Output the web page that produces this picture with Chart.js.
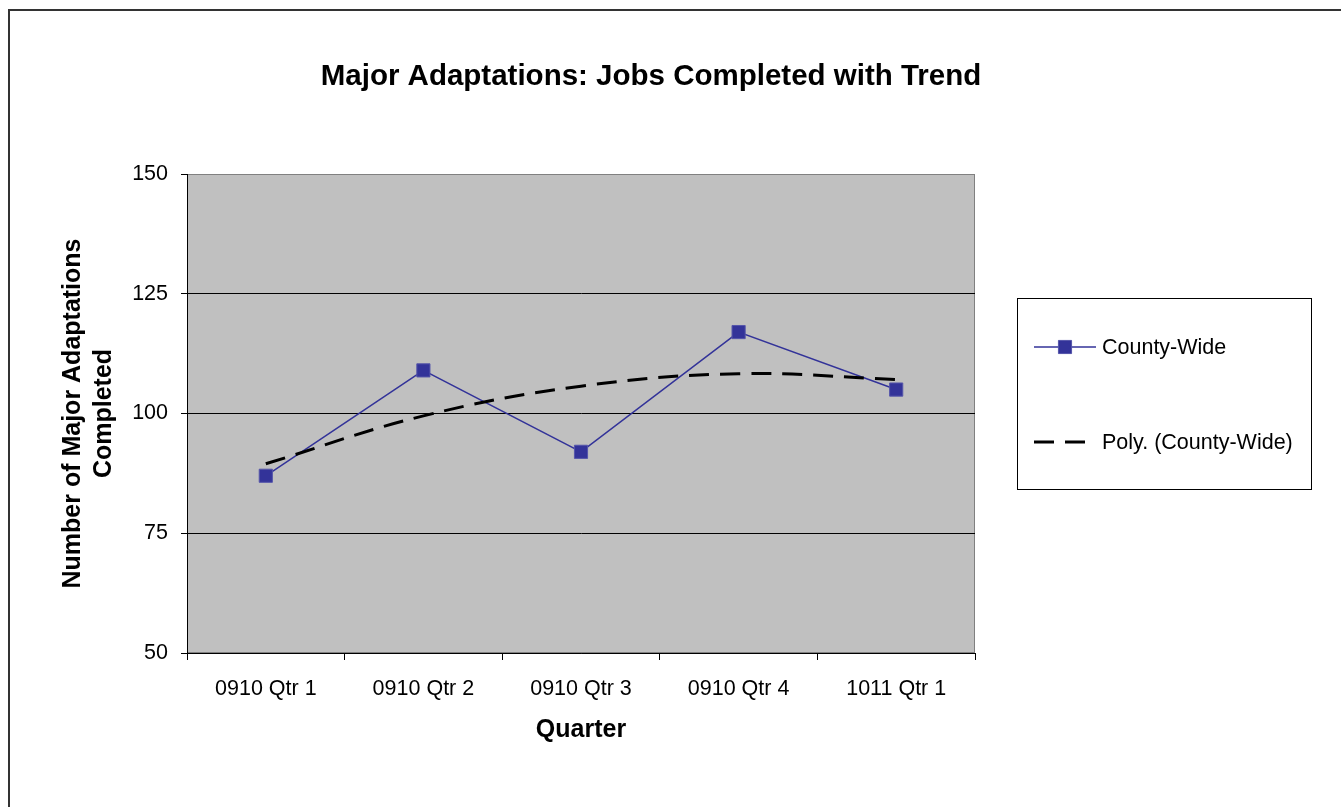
<!DOCTYPE html>
<html>
<head>
<meta charset="utf-8">
<title>Major Adaptations: Jobs Completed with Trend</title>
<script src="https://cdn.jsdelivr.net/npm/chart.js@4/dist/chart.umd.min.js"></script>
<style>
  html, body { margin: 0; padding: 0; background: #fff; }
  canvas { display: block; }
</style>
</head>
<body>
<canvas id="myChart" width="1341" height="807"></canvas>
<script>
var quarters = ['0910 Qtr 1', '0910 Qtr 2', '0910 Qtr 3', '0910 Qtr 4', '1011 Qtr 1'];
var jobs_done = [87, 109, 92, 117, 105];
var trend_vals = [89.5, 99.5, 105.7, 108.3, 107.1];   // 2nd order poly trend
var y_ticks = [50, 75, 100, 125, 150];
var series_names = ['County-Wide', 'Poly. (County-Wide)'];
var chart_title = 'Major Adaptations: Jobs Completed with Trend';
var y_title = ['Number of Major Adaptations', 'Completed'];
var x_title = 'Quarter';

var FONT = "'Liberation Sans', Arial, sans-serif";

// grey plot area, outer frame and title
var framePlugin = {
    id: 'frame',
    beforeDraw: function (chart) {
        var ctx = chart.ctx, a = chart.chartArea;
        ctx.save();
        ctx.fillStyle = '#c0c0c0';
        ctx.fillRect(a.left, a.top, a.right - a.left, a.bottom - a.top);
        ctx.strokeStyle = '#808080';
        ctx.lineWidth = 1;
        ctx.strokeRect(a.left + 0.5, a.top + 0.5, a.right - a.left - 1, a.bottom - a.top - 1);

        ctx.strokeStyle = '#333';
        ctx.lineWidth = 2;
        ctx.strokeRect(9, 10, chart.width + 20, chart.height + 20);

        ctx.fillStyle = '#000';
        ctx.font = 'bold 29.5px ' + FONT;
        ctx.textAlign = 'center';
        ctx.textBaseline = 'middle';
        ctx.fillText(chart_title, 651, 77);
        ctx.restore();
    },
    afterDraw: function (chart) {
        drawLegend(chart);
    }
};

// boxed legend on the right
function drawLegend(chart) {
    var ctx = chart.ctx;
    var ds = chart.data.datasets;
    var rows = [347, 442];
    ctx.save();
    ctx.strokeStyle = '#000';
    ctx.lineWidth = 1;
    ctx.strokeRect(1017.5, 298.5, 294, 191);
    ds.forEach(function (d, i) {
        var y = rows[i];
        ctx.strokeStyle = d.borderColor;
        ctx.lineWidth = d.borderWidth;
        ctx.setLineDash(d.borderDash || []);
        ctx.beginPath();
        ctx.moveTo(1034, y);
        ctx.lineTo(1096, y);
        ctx.stroke();
        ctx.setLineDash([]);
        if (d.pointRadius > 0) {
            ctx.fillStyle = d.pointBackgroundColor;
            ctx.strokeStyle = d.pointBorderColor;
            ctx.lineWidth = d.pointBorderWidth;
            Chart.helpers.drawPoint(ctx, {
                pointStyle: d.pointStyle,
                radius: d.pointRadius,
                borderWidth: d.pointBorderWidth,
                rotation: 0
            }, 1065, y);
        }
        ctx.fillStyle = '#000';
        ctx.font = '21.5px ' + FONT;
        ctx.textAlign = 'left';
        ctx.textBaseline = 'middle';
        ctx.fillText(d.label, 1102, y + 1);
    });
    ctx.restore();
}

const ctx = document.getElementById('myChart');
const myChart = new Chart(ctx, {
    type: 'line',
    data: {
        labels: quarters,
        datasets: [{
            label: series_names[0],
            data: jobs_done,
            borderColor: '#333399',
            borderWidth: 1.5,
            pointStyle: 'rect',
            pointRadius: 9.3,
            pointBackgroundColor: '#333399',
            pointBorderColor: '#5555aa',
            pointBorderWidth: 1,
            tension: 0,
            order: 1
        }, {
            label: series_names[1],
            data: trend_vals,
            borderColor: '#000',
            borderWidth: 3,
            borderDash: [20, 11],
            pointRadius: 0,
            tension: 0.4,
            order: 0
        }]
    },
    options: {
        responsive: false,
        animation: false,
        devicePixelRatio: 1,
        layout: {
            padding: { left: 20, top: 174, right: 366, bottom: 62 }
        },
        plugins: {
            legend: { display: false },
            title: { display: false },
            tooltip: { enabled: false }
        },
        scales: {
            x: {
                offset: true,
                grid: {
                    offset: true,
                    drawOnChartArea: false,
                    drawTicks: true,
                    tickLength: 7,
                    color: '#000',
                    tickColor: '#000'
                },
                border: { color: '#000', width: 1 },
                ticks: {
                    color: '#000',
                    padding: 16,
                    maxRotation: 0,
                    font: { family: FONT, size: 21.5 }
                },
                title: {
                    display: true,
                    text: x_title,
                    color: '#000',
                    padding: { top: 0, bottom: 0 },
                    font: { family: FONT, size: 25, weight: 'bold', lineHeight: 1.2 }
                },
                afterFit: function (scale) { scale.height = 92; }
            },
            y: {
                min: y_ticks[0],
                max: y_ticks[y_ticks.length - 1],
                afterBuildTicks: function (scale) {
                    scale.ticks = y_ticks.map(function (v) { return { value: v }; });
                },
                grid: {
                    color: function (c) {
                        return c.tick && c.tick.value === y_ticks[y_ticks.length - 1] ? '#808080' : '#000';
                    },
                    tickColor: '#000',
                    tickLength: 6,
                    lineWidth: 1
                },
                border: { color: '#000', width: 1 },
                ticks: {
                    color: '#000',
                    padding: 13,
                    font: { family: FONT, size: 21.5 }
                },
                title: {
                    display: true,
                    text: y_title,
                    color: '#000',
                    padding: { top: 37, bottom: 0 },
                    font: { family: FONT, size: 25, weight: 'bold', lineHeight: 1.26 }
                },
                afterFit: function (scale) { scale.width = 167; }
            }
        }
    },
    plugins: [framePlugin]
});
</script>
</body>
</html>
